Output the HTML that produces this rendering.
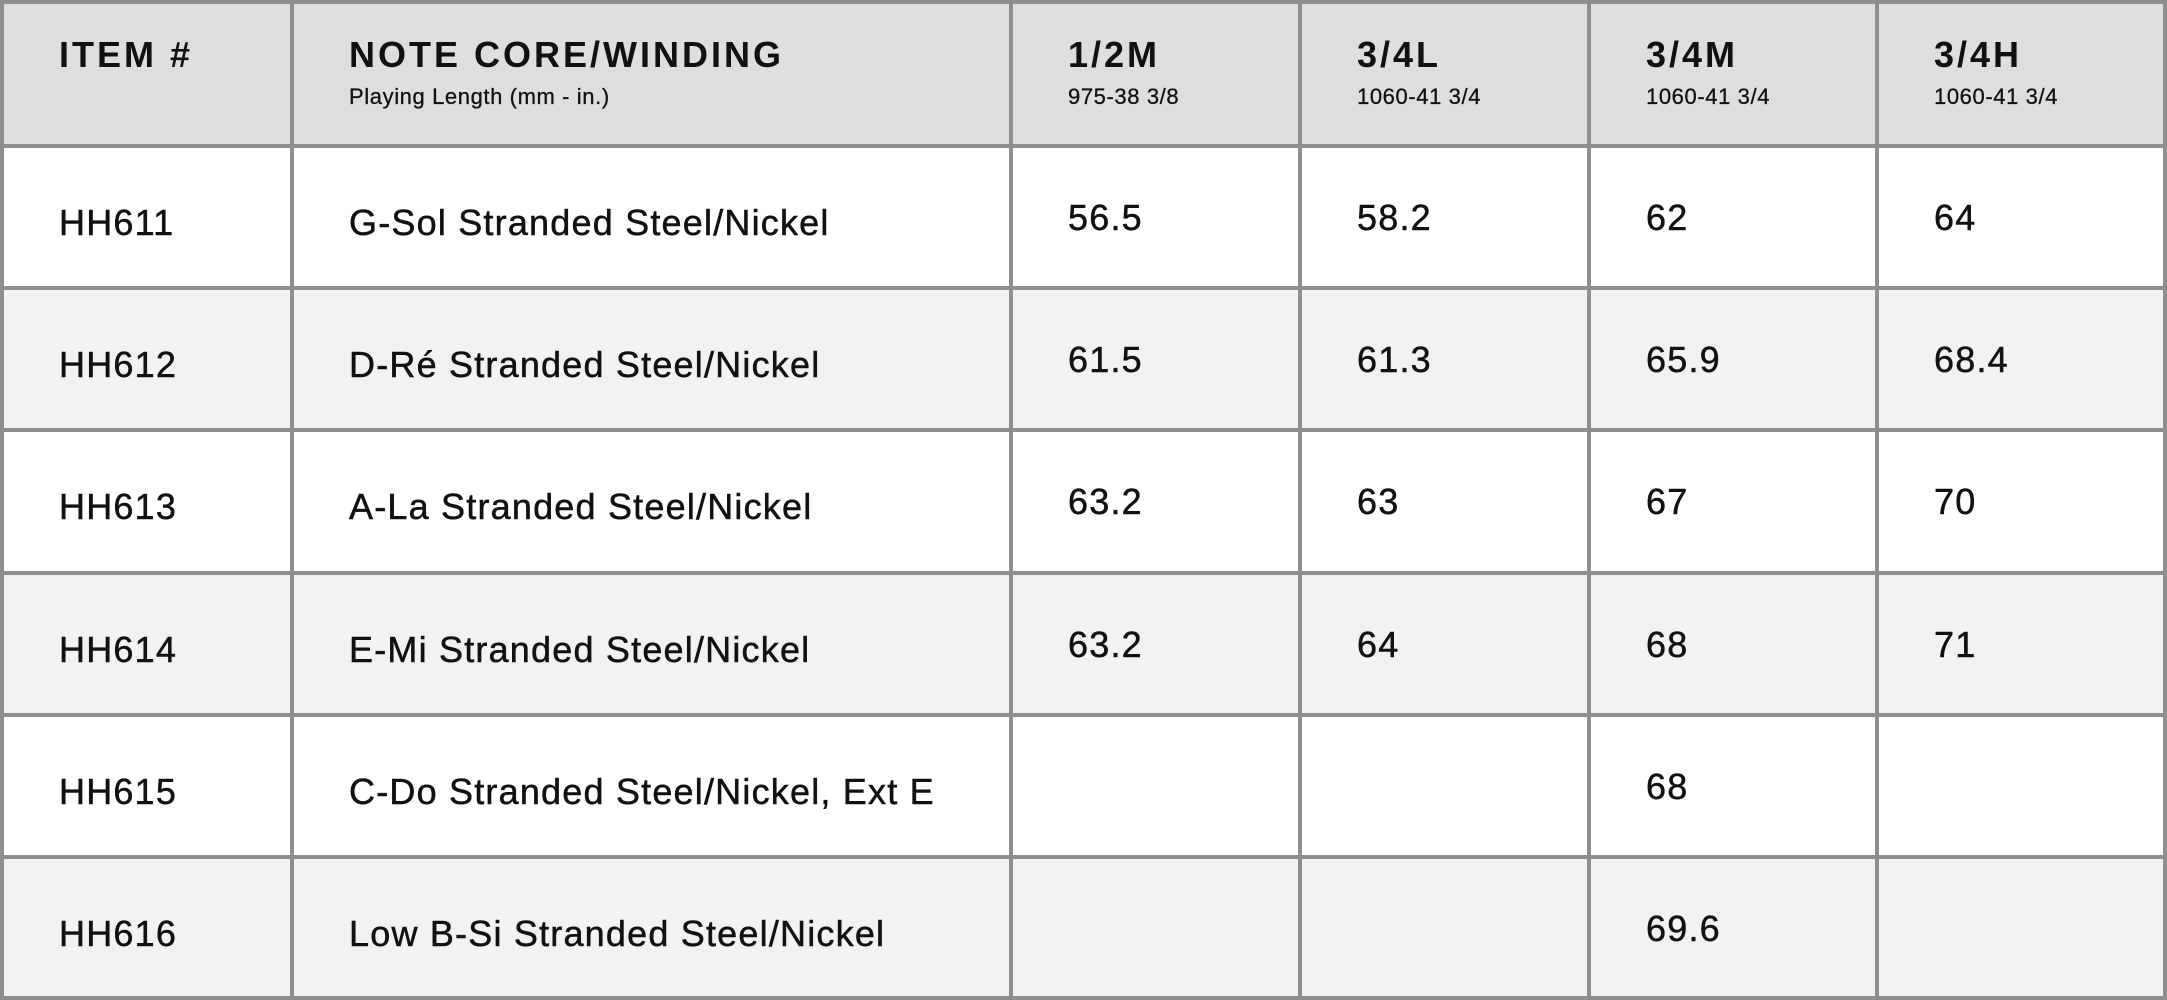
<!DOCTYPE html>
<html><head><meta charset="utf-8"><style>
body{margin:0;width:2167px;height:1000px;background:#fff;overflow:hidden;font-family:"Liberation Sans",sans-serif;color:#111}
#t{position:absolute;left:0;top:0;width:2167px;height:1000px}
.bg{position:absolute;left:0;width:2167px}
.vl{position:absolute;top:0;width:4px;height:1000px;background:#8e8e8e}
.hl{position:absolute;left:0;width:2167px;height:4px;background:#8e8e8e}
.h{position:absolute;font-weight:bold;font-size:36px;line-height:1;letter-spacing:3px;white-space:nowrap}
.s{position:absolute;font-size:22px;line-height:1;letter-spacing:0.6px;white-space:nowrap;-webkit-text-stroke:0.3px #111}
.c{position:absolute;font-size:36px;line-height:1;letter-spacing:1.2px;white-space:nowrap;-webkit-text-stroke:0.5px #111}
</style></head><body>
<div id="t"></div>
<script>
const cols=[0,290,1009,1298,1587,1875,2167];
const rows=[0,144,286,428,571,713,855,998];
const headers=["ITEM #","NOTE CORE/WINDING","1/2M","3/4L","3/4M","3/4H"];
const subs=["","Playing Length (mm - in.)","975-38 3/8","1060-41 3/4","1060-41 3/4","1060-41 3/4"];
const items=["HH611","HH612","HH613","HH614","HH615","HH616"];
const notes=["G-Sol Stranded Steel/Nickel","D-Ré Stranded Steel/Nickel","A-La Stranded Steel/Nickel","E-Mi Stranded Steel/Nickel","C-Do Stranded Steel/Nickel, Ext E","Low B-Si Stranded Steel/Nickel"];
const half_m=["56.5","61.5","63.2","63.2","",""];
const q_l=["58.2","61.3","63","64","",""];
const q_m=["62","65.9","67","68","68","69.6"];
const q_h=["64","68.4","70","71","",""];
const t=document.getElementById('t');
function add(cls,style,txt,name){const d=document.createElement('div');d.className=cls;d.style.cssText=style;if(txt!==undefined)d.textContent=txt;


t.appendChild(d);return d;}
add('bg','top:0;height:'+rows[1]+'px;background:#dedede',undefined,'header-row');
for(let r=0;r<6;r++){add('bg','top:'+rows[r+1]+'px;height:'+(rows[r+2]-rows[r+1])+'px;background:'+(r%2?'#f2f2f4':'#fff'),undefined,'row-'+items[r].toLowerCase());}
for(let c=0;c<6;c++){
 add('h','left:'+(cols[c]+59)+'px;top:37px',headers[c],'header-'+(c));
 if(subs[c])add('s','left:'+(cols[c]+59)+'px;top:86px',subs[c],'subheader-'+c);
}
const data=[items,notes,half_m,q_l,q_m,q_h];
for(let r=0;r<6;r++){for(let c=0;c<6;c++){const v=data[c][r];if(!v)continue;
 const off=c<2?61:56;
 add('c','left:'+(cols[c]+59)+'px;top:'+(rows[r+1]+off)+'px',v,'cell-r'+(r+1)+'-c'+(c+1));}}
cols.forEach((x,i)=>add('vl','left:'+Math.min(x,2163)+'px',undefined,'col-border-'+i));
rows.forEach((y,i)=>add('hl','top:'+Math.min(y,996)+'px',undefined,'row-border-'+i));
</script>
</body></html>
